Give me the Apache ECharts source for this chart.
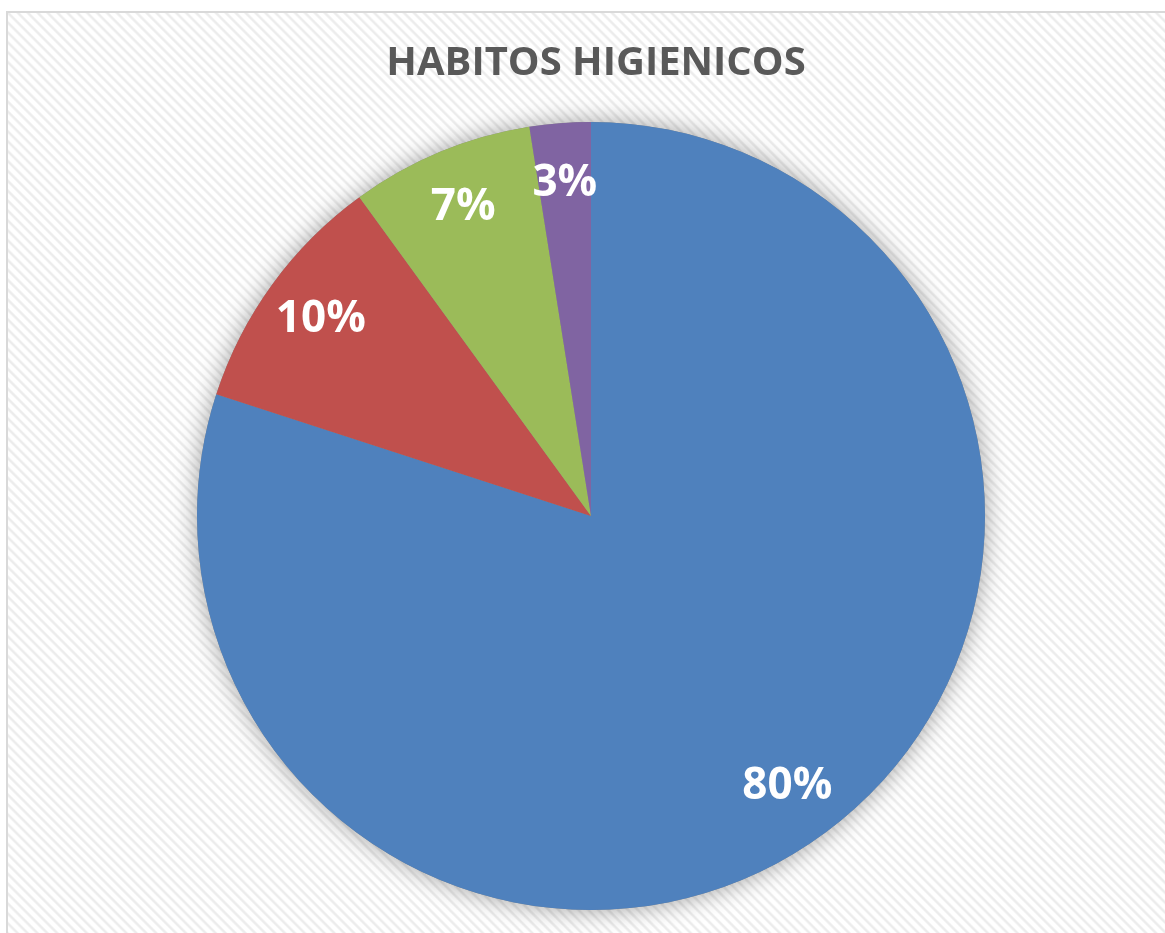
<!DOCTYPE html>
<html>
<head>
<meta charset="utf-8">
<script src="https://cdn.jsdelivr.net/npm/echarts@6/dist/echarts.min.js"></script>
<style>
  html, body { margin: 0; padding: 0; width: 1165px; height: 933px; overflow: hidden; background: #ffffff; }
  #frame {
    position: absolute; left: 6px; top: 11px; width: 1170px; height: 940px;
    border: 2px solid #d9d9d9; box-sizing: border-box;
    background: repeating-linear-gradient(45deg, #ffffff 0px, #ffffff 2px, #ececec 3.5px, #ececec 4.5px, #ffffff 6px, #ffffff 7px);
  }
  #chart { position: absolute; left: 0; top: 0; width: 1165px; height: 933px; }
</style>
</head>
<body>
<div id="frame"></div>
<div id="chart"></div>
<script>
const titleText = 'HABITOS HIGIENICOS';
const categories = ['A', 'B', 'C', 'D'];
const values = [80, 10, 7.5, 2.5];
const labels = ['80%', '10%', '7%', '3%'];
const colors = ['#4F81BD', '#C0504D', '#9BBB59', '#8064A2'];

const chart = echarts.init(document.getElementById('chart'), null, { renderer: 'canvas' });

const plain = categories.map((c, i) => ({ name: c, value: values[i] }));

chart.setOption({
  backgroundColor: 'transparent',
  animation: false,
  title: {
    text: titleText,
    left: 591,
    textAlign: 'center',
    top: 39,
    textStyle: { fontFamily: 'Open Sans', fontWeight: 'bold', fontSize: 40, color: '#595959' }
  },
  series: [
    {
      type: 'pie',
      center: [591, 516],
      radius: 394,
      startAngle: 90,
      clockwise: true,
      silent: true,
      label: { show: false },
      labelLine: { show: false },
      itemStyle: { color: '#888', shadowBlur: 24, shadowColor: 'rgba(0,0,0,0.38)' },
      data: plain
    },
    {
      type: 'pie',
      center: [591, 516],
      radius: 394,
      startAngle: 90,
      clockwise: true,
      silent: true,
      label: { show: false },
      labelLine: { show: false },
      data: categories.map((c, i) => ({ name: c, value: values[i], itemStyle: { color: colors[i] } }))
    },
    {
      type: 'pie',
      center: [591, 516],
      radius: [Math.round(394 * 0.68), 394],
      startAngle: 90,
      clockwise: true,
      silent: true,
      itemStyle: { color: 'transparent' },
      label: {
        show: true,
        position: 'inside',
        formatter: p => labels[p.dataIndex],
        fontFamily: 'Open Sans',
        fontWeight: 'bold',
        fontSize: 44,
        color: '#ffffff'
      },
      labelLine: { show: false },
      data: plain
    }
  ]
});
</script>
</body>
</html>
